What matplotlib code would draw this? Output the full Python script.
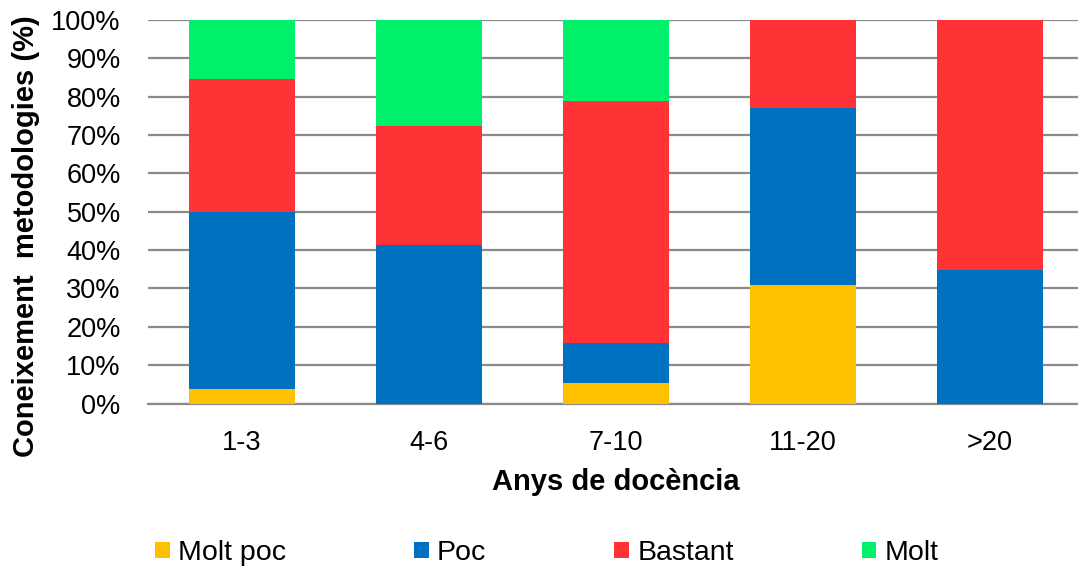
import matplotlib
matplotlib.use("Agg")
import matplotlib.pyplot as plt
from matplotlib.patches import Patch
import numpy as np

plt.rcParams['font.family'] = ['Liberation Sans', 'DejaVu Sans']

categories = ['1-3', '4-6', '7-10', '11-20', '>20']
molt_poc = [3.8, 0.0, 5.3, 30.8, 0.0]
poc = [46.2, 41.4, 10.5, 46.2, 34.8]
bastant = [34.6, 31.0, 63.2, 23.1, 65.2]
molt = [15.4, 27.6, 21.0, 0.0, 0.0]

series = [('Molt poc', molt_poc, '#FFC000'),
          ('Poc', poc, '#0070C0'),
          ('Bastant', bastant, '#FF3336'),
          ('Molt', molt, '#00F06C')]

fig = plt.figure(figsize=(10.78, 5.74), dpi=100)
# plot area runs past the right edge of the figure
ax = fig.add_axes([148.5 / 1078, 1 - 403.5 / 574, 935 / 1078, 383.5 / 574])

x = np.arange(len(categories))
bottom = np.zeros(len(categories))
handles = []
for name, vals, color in series:
    vals = np.array(vals)
    ax.bar(x, vals, width=0.57, bottom=bottom, color=color, zorder=3)
    bottom += vals
    handles.append(Patch(facecolor=color, label=name))

ax.set_xlim(-0.5, 4.5)
ax.set_ylim(0, 100)
ax.set_yticks(np.arange(0, 101, 10))
ax.set_yticklabels([f'{v}%' for v in range(0, 101, 10)])
ax.set_xticks(x)
ax.set_xticklabels(categories)
ax.yaxis.grid(True, color='#8A8A8A', linewidth=1.6, zorder=0)
ax.set_axisbelow(True)
for s in ['top', 'right', 'left']:
    ax.spines[s].set_visible(False)
ax.spines['bottom'].set_color('#8A8A8A')
ax.spines['bottom'].set_linewidth(1.6)
ax.tick_params(axis='both', length=0, labelsize=19.5)
ax.tick_params(axis='y', pad=20)
ax.tick_params(axis='x', pad=19)

fig.text(616 / 1078, 1 - 482 / 574, 'Anys de docència', ha='center', va='center',
         fontsize=21, fontweight='bold')
fig.text(26 / 1078, 1 - 236 / 574, 'Coneixement  metodologies (%)', ha='center',
         va='center', rotation=90, fontsize=21, fontweight='bold')

fig.legend(handles=handles, loc='center', bbox_to_anchor=(547 / 1078, 1 - 553 / 574),
           ncol=4, frameon=False, fontsize=20.5, handlelength=0.5, handleheight=0.5,
           handletextpad=0.3, columnspacing=4.5)

fig.savefig('out.png', dpi=100)
